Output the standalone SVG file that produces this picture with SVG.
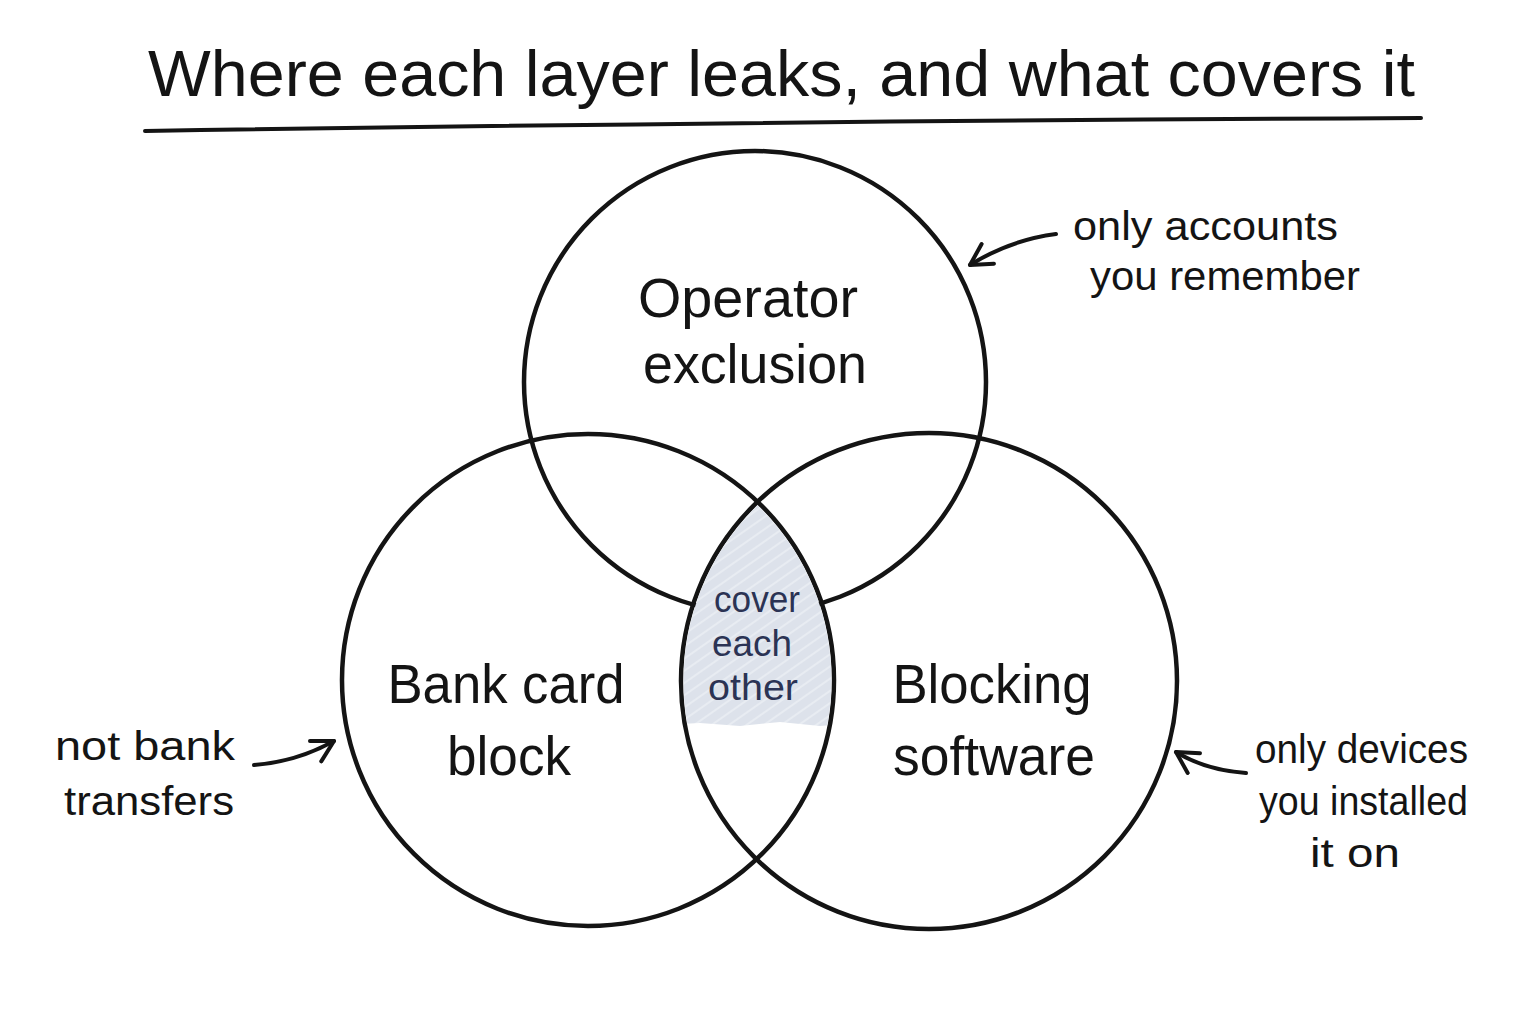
<svg xmlns="http://www.w3.org/2000/svg" width="1536" height="1024" viewBox="0 0 1536 1024">
  <style>
    .ring { fill: none; stroke: #141414; stroke-width: 4.5; }
    .t { font-family: "Liberation Sans", "DejaVu Sans", sans-serif; fill: #141414; }
    .title { font-size: 64px; }
    .node { font-size: 56px; text-anchor: middle; }
    .note { font-size: 40px; }
    .mid { font-size: 36px; text-anchor: middle; fill: #2b3354; }
    .conn { fill: none; stroke: #141414; stroke-width: 4; stroke-linecap: round; }
  </style>
  <defs>
    <marker id="arr" viewBox="0 0 12 12" refX="10" refY="6" markerWidth="28" markerHeight="28" markerUnits="userSpaceOnUse" orient="auto">
      <path d="M1,1 L10,6 L1,11" fill="none" stroke="#141414" stroke-width="1.7" stroke-linecap="round" stroke-linejoin="round"/>
    </marker>
    <clipPath id="clipLeft"><circle cx="588" cy="680" r="243.5"/></clipPath>
    <clipPath id="clipBand"><path d="M600 480 L920 480 L920 722 L900 725 L860 723 L820 726 L780 722 L740 726 L700 723 L660 725 L600 725 Z"/></clipPath>
    <pattern id="hatch" width="10" height="10" patternUnits="userSpaceOnUse" patternTransform="rotate(-35)">
      <rect width="10" height="10" fill="#dde2eb"/>
      <line x1="0" y1="2" x2="10" y2="2" stroke="#eef1f6" stroke-width="1.4"/>
    </pattern>
  </defs>
  <rect width="1536" height="1024" fill="#ffffff"/>

  <g id="title">
    <text class="t title" x="148" y="96" textLength="1267" lengthAdjust="spacingAndGlyphs">Where each layer leaks, and what covers it</text>
    <path d="M145 131 Q 780 121 1421 118" fill="none" stroke="#141414" stroke-width="4" stroke-linecap="round"/>
  </g>

  <g id="operator-exclusion">
    <circle class="ring" cx="755" cy="382" r="231"/>
    <text class="t node" x="748" y="317" textLength="220" lengthAdjust="spacingAndGlyphs">Operator</text>
    <text class="t node" x="755" y="383" textLength="224" lengthAdjust="spacingAndGlyphs">exclusion</text>
  </g>

  <g id="bank-card-block">
    <circle class="ring" cx="588" cy="680" r="246"/>
    <text class="t node" x="506" y="703" textLength="237" lengthAdjust="spacingAndGlyphs">Bank card</text>
    <text class="t node" x="509" y="775" textLength="124" lengthAdjust="spacingAndGlyphs">block</text>
  </g>

  <g id="blocking-software">
    <circle class="ring" cx="929" cy="681" r="248"/>
    <text class="t node" x="992" y="703" textLength="199" lengthAdjust="spacingAndGlyphs">Blocking</text>
    <text class="t node" x="994" y="775" textLength="202" lengthAdjust="spacingAndGlyphs">software</text>
  </g>

  <g id="overlap">
    <g clip-path="url(#clipLeft)">
      <g clip-path="url(#clipBand)">
        <circle cx="929" cy="681" r="245.5" fill="url(#hatch)"/>
      </g>
    </g>
    <text class="t mid" x="757" y="612" textLength="86" lengthAdjust="spacingAndGlyphs">cover</text>
    <text class="t mid" x="752" y="656" textLength="80" lengthAdjust="spacingAndGlyphs">each</text>
    <text class="t mid" x="753" y="700" textLength="90" lengthAdjust="spacingAndGlyphs">other</text>
  </g>

  <g id="note-accounts">
    <text class="t note" x="1073" y="240" textLength="265" lengthAdjust="spacingAndGlyphs">only accounts</text>
    <text class="t note" x="1090" y="290" textLength="270" lengthAdjust="spacingAndGlyphs">you remember</text>
  </g>
  <g id="note-transfers">
    <text class="t note" x="55" y="760" textLength="180" lengthAdjust="spacingAndGlyphs">not bank</text>
    <text class="t note" x="64" y="815" textLength="170" lengthAdjust="spacingAndGlyphs">transfers</text>
  </g>
  <g id="note-devices">
    <text class="t note" x="1255" y="763" textLength="213" lengthAdjust="spacingAndGlyphs">only devices</text>
    <text class="t note" x="1259" y="815" textLength="209" lengthAdjust="spacingAndGlyphs">you installed</text>
    <text class="t note" x="1310" y="867" textLength="90" lengthAdjust="spacingAndGlyphs">it on</text>
  </g>

  <g id="connectors">
    <path class="conn" d="M1056 234 Q 1010 240 970 265" marker-end="url(#arr)"/>
    <path class="conn" d="M254 765 Q 296 762 334 741" marker-end="url(#arr)"/>
    <path class="conn" d="M1246 773 Q 1205 770 1176 752" marker-end="url(#arr)"/>
  </g>
</svg>
